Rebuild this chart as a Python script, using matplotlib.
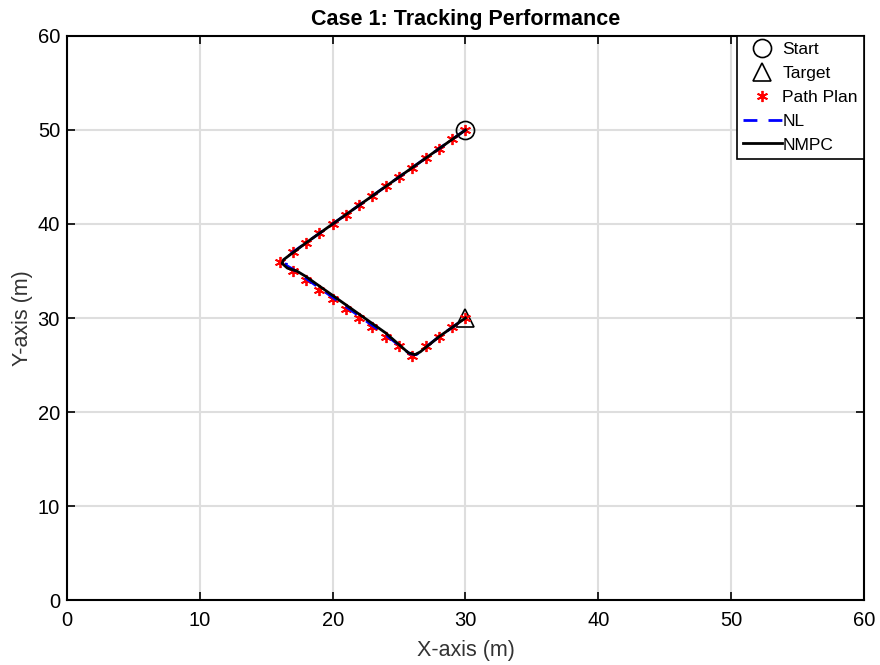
import numpy as np
import matplotlib.pyplot as plt

plt.rcParams['font.family'] = ['Liberation Sans', 'DejaVu Sans']

# path plan waypoints
plan_x = [30, 29, 28, 27, 26, 25, 24, 23, 22, 21, 20, 19, 18, 17, 16,
          17, 18, 19, 20, 21, 22, 23, 24, 25, 26,
          27, 28, 29, 30]
plan_y = [50, 49, 48, 47, 46, 45, 44, 43, 42, 41, 40, 39, 38, 37, 36,
          35, 34, 33, 32, 31, 30, 29, 28, 27, 26,
          27, 28, 29, 30]

# NL controller trajectory
nl_x = [30, 28, 26, 24, 22, 20, 18, 16.6, 16.5, 17.0, 18, 20, 22, 24, 25.8, 26.3, 28, 30]
nl_y = [50, 48, 46, 44, 42, 40, 38, 36.6, 35.6, 35.2, 34.2, 32.2, 30.2, 28.2, 26.2, 26.1, 28, 30]

# NMPC trajectory
nmpc_x = [30, 28, 26, 24, 22, 20, 18, 16.3, 16.2, 16.6, 17.3, 18, 20, 22, 24, 25.7, 26.2, 26.6, 28, 30]
nmpc_y = [50, 48, 46, 44, 42, 40, 38, 36.2, 35.8, 35.3, 35.0, 34.4, 32.4, 30.4, 28.4, 26.3, 26.1, 26.4, 28, 30]

start = (30, 50)
target = (30, 30)

fig = plt.figure(figsize=(8.8, 6.65), dpi=100)
ax = fig.add_axes([0.0761, 0.0977, 0.9057, 0.8482])

ax.plot(start[0], start[1], 'o', mfc='none', mec='black', ms=13, mew=1.2, label='Start')
ax.plot(target[0], target[1], '^', mfc='none', mec='black', ms=13, mew=1.2, label='Target')
ax.plot(plan_x, plan_y, ls='none', marker=(6, 2, 0), color='red', ms=8, mew=1.3, label='Path Plan')
ax.plot(nl_x, nl_y, color='blue', lw=2, dashes=(5, 4), label='NL')
ax.plot(nmpc_x, nmpc_y, '-', color='black', lw=2, label='NMPC')

ax.set_xlim(0, 60)
ax.set_ylim(0, 60)
ax.set_xticks(np.arange(0, 61, 10))
ax.set_yticks(np.arange(0, 61, 10))
ax.grid(True, color='#dedede', lw=1.5)
ax.set_axisbelow(True)
ax.tick_params(direction='in', top=True, right=True, labelsize=14.5, length=6, width=1.2)
ax.tick_params(axis='x', pad=8)
ax.tick_params(axis='y', pad=5)
for s in ax.spines.values():
    s.set_linewidth(1.5)

ax.set_title('Case 1: Tracking Performance', fontsize=15.5, fontweight='bold', pad=8)
ax.set_xlabel('X-axis (m)', fontsize=15.5, color='#333333', labelpad=7)
ax.set_ylabel('Y-axis (m)', fontsize=15.5, color='#333333', labelpad=3)

leg = ax.legend(loc='upper right', fontsize=12.5, fancybox=False, edgecolor='black',
                framealpha=1, borderaxespad=0, handlelength=2.2, handletextpad=0.05,
                labelspacing=0.5, borderpad=0.35)
leg.get_frame().set_linewidth(1.2)

fig.savefig('out.png', dpi=100)
